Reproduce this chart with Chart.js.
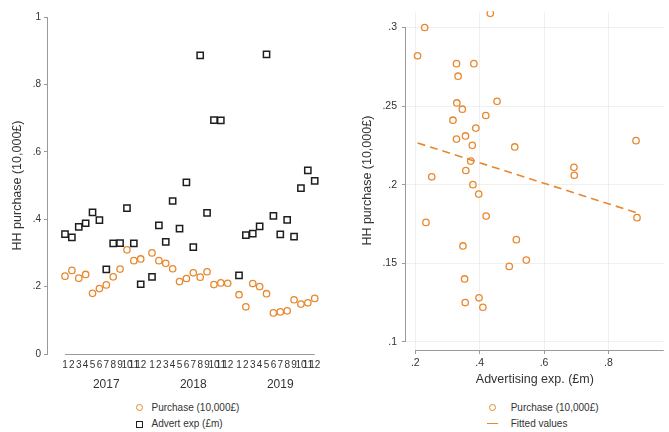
<!DOCTYPE html>
<html>
<head>
<meta charset="utf-8">
<script src="https://cdn.jsdelivr.net/npm/chart.js@4/dist/chart.umd.min.js"></script>
<style>
  html, body { margin: 0; padding: 0; background: #fff; }
  #wrap { position: relative; width: 669px; height: 432px; overflow: hidden;
          font-family: "Liberation Sans", Arial, sans-serif; }
  .panel { position: absolute; top: 0; }
  #leftBox { left: 0; }
  #rightBox { left: 335px; }
  .item { position: absolute; white-space: nowrap; font-size: 10px; line-height: 12px; color: #333; }
  .sym { position: absolute; box-sizing: border-box; }
</style>
</head>
<body>
<div id="wrap">
  <div class="panel" id="leftBox"><canvas id="left" width="330" height="395"></canvas></div>
  <div class="panel" id="rightBox"><canvas id="right" width="334" height="395"></canvas></div>
  <div id="legends"></div>
</div>
<script>
// Monthly series, Jan 2017 - Dec 2019
const years = ['2017', '2018', '2019'];
const months = ['1', '2', '3', '4', '5', '6', '7', '8', '9', '10', '11', '12'];

// Household purchase (10,000£)
const purchase = [
  0.231, 0.248, 0.225, 0.236, 0.180, 0.194, 0.205, 0.229, 0.252, 0.309, 0.277, 0.282,
  0.300, 0.277, 0.269, 0.253, 0.215, 0.224, 0.241, 0.228, 0.244, 0.206, 0.211, 0.210,
  0.176, 0.140, 0.209, 0.200, 0.179, 0.122, 0.125, 0.128, 0.161, 0.148, 0.152, 0.165
];

// Advertising expenditure (£m); Dec 2018 not recorded
const advert = [
  0.356, 0.346, 0.377, 0.388, 0.420, 0.397, 0.251, 0.328, 0.329, 0.433, 0.328, 0.207,
  0.229, 0.382, 0.333, 0.454, 0.372, 0.509, 0.317, 0.886, 0.419, 0.694, 0.693, null,
  0.233, 0.353, 0.357, 0.379, 0.889, 0.410, 0.355, 0.398, 0.348, 0.492, 0.545, 0.514
];

const leftYTicks = [0, 0.2, 0.4, 0.6, 0.8, 1];
const rightYTicks = [0.1, 0.15, 0.2, 0.25, 0.3];
const rightXTicks = [0.2, 0.4, 0.6, 0.8];

const ORANGE = '#e8882e';
const DARK = '#1e1e1e';
const TEXT = '#333333';
const AXIS = '#9a9a9a';

Chart.defaults.font.family = "'Liberation Sans', Arial, sans-serif";
Chart.defaults.color = TEXT;

// time position: months run 1..12 inside a year, with a small gap between years
const YEAR_GAP = 0.64;
const timePos = i => Math.floor(i / 12) * (12 + YEAR_GAP) + (i % 12) + 1;
const positions = purchase.map((_, i) => timePos(i));
const yearCentres = years.map((_, k) => timePos(k * 12 + 6));

const fmt = v => {
  const s = String(+v.toFixed(3));
  return s.replace(/^0\./, '.').replace(/^-0\./, '-.');
};

// axis lines spanning a value range (rather than the whole plot area)
const axisLinePlugin = {
  id: 'axisLines',
  afterDraw(chart, args, opts) {
    const { ctx, chartArea, scales } = chart;
    ctx.save();
    ctx.strokeStyle = opts.color || AXIS;
    ctx.lineWidth = 1;
    ctx.beginPath();
    if (opts.x) {
      const y = Math.round(chartArea.bottom) + 0.5;
      ctx.moveTo(scales.x.getPixelForValue(opts.x[0]), y);
      ctx.lineTo(scales.x.getPixelForValue(opts.x[1]), y);
    }
    if (opts.y) {
      const x = Math.round(chartArea.left) - 0.5;
      ctx.moveTo(x, scales.y.getPixelForValue(opts.y[0]));
      ctx.lineTo(x, scales.y.getPixelForValue(opts.y[1]));
    }
    ctx.stroke();
    ctx.restore();
  }
};

// ---------- left: monthly series ----------
const leftChart = new Chart(document.getElementById('left'), {
  type: 'scatter',
  plugins: [axisLinePlugin],
  data: {
    datasets: [
      {
        label: 'Purchase (10,000£)',
        data: purchase.map((v, i) => ({ x: positions[i], y: v })),
        pointStyle: 'circle', pointRadius: 3.2, pointBorderWidth: 1.3,
        borderColor: ORANGE, backgroundColor: 'rgba(0,0,0,0)'
      },
      {
        label: 'Advert exp (£m)',
        data: advert.map((v, i) => ({ x: positions[i], y: v })).filter(p => p.y !== null),
        pointStyle: 'rect', pointRadius: 4.4, pointBorderWidth: 1.5,
        borderColor: DARK, backgroundColor: 'rgba(0,0,0,0)'
      }
    ]
  },
  options: {
    responsive: false, animation: false,
    layout: { padding: { left: 0, top: 17, right: 8, bottom: 2 } },
    plugins: {
      legend: { display: false }, tooltip: { enabled: false },
      axisLines: { x: [positions[0], positions[positions.length - 1]], y: [0, 1] }
    },
    scales: {
      x: {
        type: 'linear', position: 'bottom', weight: 0, min: -1.47, max: 38.34,
        grid: { display: false, drawTicks: false }, border: { display: false },
        afterBuildTicks: s => { s.ticks = positions.map(v => ({ value: v })); },
        afterFit: s => { s.height = 17; },
        ticks: {
          autoSkip: false, maxRotation: 0, minRotation: 0, padding: 5,
          font: { size: 10 }, color: TEXT,
          callback: (v, i) => months[i % 12]
        }
      },
      x2: {
        type: 'linear', position: 'bottom', weight: 1, min: -1.47, max: 38.34,
        grid: { display: false, drawTicks: false }, border: { display: false },
        afterBuildTicks: s => { s.ticks = yearCentres.map(v => ({ value: v })); },
        afterFit: s => { s.height = 22; },
        ticks: {
          autoSkip: false, maxRotation: 0, minRotation: 0, padding: 6,
          font: { size: 12 }, color: TEXT,
          callback: (v, i) => years[i]
        }
      },
      y: {
        type: 'linear', position: 'left', min: 0, max: 1,
        afterBuildTicks: s => { s.ticks = leftYTicks.map(v => ({ value: v })); },
        afterFit: s => { s.width = 48; },
        grid: { display: true, drawOnChartArea: false, drawTicks: true, tickLength: 4, color: AXIS },
        border: { display: false },
        ticks: { padding: 3, font: { size: 10 }, color: TEXT, callback: v => fmt(v) },
        title: {
          display: true, text: 'HH purchase (10,000£)', color: TEXT,
          font: { size: 12.5 }, padding: { top: 10.5, bottom: 0 }
        }
      }
    }
  }
});

// ---------- right: purchase against advertising, with linear fit ----------
const pairs = advert
  .map((a, i) => ({ x: a, y: purchase[i] }))
  .filter(p => p.x !== null);

const n = pairs.length;
const mx = pairs.reduce((s, p) => s + p.x, 0) / n;
const my = pairs.reduce((s, p) => s + p.y, 0) / n;
const sxy = pairs.reduce((s, p) => s + (p.x - mx) * (p.y - my), 0);
const sxx = pairs.reduce((s, p) => s + (p.x - mx) * (p.x - mx), 0);
const slope = sxy / sxx;
const intercept = my - slope * mx;
const xMin = Math.min(...pairs.map(p => p.x));
const xMax = Math.max(...pairs.map(p => p.x));
const fitted = [xMin, xMax].map(x => ({ x, y: intercept + slope * x }));

const rightChart = new Chart(document.getElementById('right'), {
  type: 'scatter',
  plugins: [axisLinePlugin],
  data: {
    datasets: [
      {
        label: 'Purchase (10,000£)',
        data: pairs,
        pointStyle: 'circle', pointRadius: 3.2, pointBorderWidth: 1.3,
        borderColor: ORANGE, backgroundColor: 'rgba(0,0,0,0)'
      },
      {
        label: 'Fitted values',
        data: fitted, showLine: true, pointRadius: 0,
        borderColor: ORANGE, borderWidth: 1.6, borderDash: [8, 5],
        backgroundColor: 'rgba(0,0,0,0)'
      }
    ]
  },
  options: {
    responsive: false, animation: false,
    layout: { padding: { left: 0, top: 8, right: 4, bottom: 5 } },
    plugins: {
      legend: { display: false }, tooltip: { enabled: false },
      axisLines: { x: [0.2, 0.972], y: [0.1, 0.3] }
    },
    scales: {
      x: {
        type: 'linear', position: 'bottom', min: 0.171, max: 0.972,
        afterBuildTicks: s => { s.ticks = rightXTicks.map(v => ({ value: v })); },
        afterFit: s => { s.height = 40; },
        grid: { display: true, drawOnChartArea: true, drawTicks: true, tickLength: 4,
                color: 'rgba(0,0,0,0.06)', tickColor: AXIS },
        border: { display: false },
        ticks: { padding: 3, font: { size: 10.5 }, color: TEXT, callback: v => fmt(v) },
        title: {
          display: true, text: 'Advertising exp. (£m)', color: TEXT,
          font: { size: 12.5 }, padding: { top: 0, bottom: 2.5 }
        }
      },
      y: {
        type: 'linear', position: 'left', min: 0.0948, max: 0.3103,
        afterBuildTicks: s => { s.ticks = rightYTicks.map(v => ({ value: v })); },
        afterFit: s => { s.width = 71; },
        grid: { display: true, drawOnChartArea: true, drawTicks: true, tickLength: 4,
                color: 'rgba(0,0,0,0.06)', tickColor: AXIS },
        border: { display: false },
        ticks: { padding: 5, font: { size: 10.5 }, color: TEXT, callback: v => fmt(v) },
        title: {
          display: true, text: 'HH purchase (10,000£)', color: TEXT,
          font: { size: 12.5 }, padding: { top: 25.5, bottom: 0 }
        }
      }
    }
  }
});

// ---------- legends, built from the datasets ----------
function symbolFor(ds) {
  const el = document.createElement('div');
  el.className = 'sym';
  if (ds.showLine) {
    // short stroke in the series colour
    el.style.width = '11px'; el.style.height = ds.borderWidth + 'px';
    el.style.background = ds.borderColor;
    el.dataset.w = 11; el.dataset.h = ds.borderWidth;
  } else if (ds.pointStyle === 'rect') {
    el.style.width = '7px'; el.style.height = '7px';
    el.style.border = ds.pointBorderWidth + 'px solid ' + ds.borderColor;
    el.dataset.w = 7; el.dataset.h = 7;
  } else {
    el.style.width = '7px'; el.style.height = '7px';
    el.style.borderRadius = '50%';
    el.style.border = ds.pointBorderWidth + 'px solid ' + ds.borderColor;
    el.dataset.w = 7; el.dataset.h = 7;
  }
  return el;
}

function buildLegend(chart, offsetX, symX, textX, rowY, rowStep) {
  const host = document.getElementById('legends');
  chart.data.datasets.forEach((ds, k) => {
    const cy = rowY + k * rowStep;
    const sym = symbolFor(ds);
    sym.style.left = (offsetX + symX - sym.dataset.w / 2) + 'px';
    sym.style.top = (cy - sym.dataset.h / 2) + 'px';
    host.appendChild(sym);
    const t = document.createElement('div');
    t.className = 'item';
    t.textContent = ds.label;
    t.style.left = (offsetX + textX) + 'px';
    t.style.top = (cy - 6) + 'px';
    host.appendChild(t);
  });
}

buildLegend(leftChart, 0, 139, 151.5, 407.7, 16.6);
buildLegend(rightChart, 335, 157.7, 175.7, 407.7, 16);
</script>
</body>
</html>
